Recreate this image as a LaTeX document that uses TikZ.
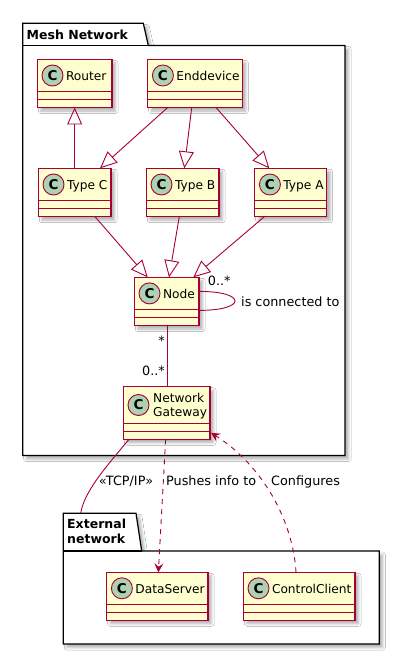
\documentclass[tikz,border=0pt]{standalone}
\usepackage{fontspec}
\setmainfont{DejaVu Sans}
\usetikzlibrary{arrows.meta,shadows.blur}
\definecolor{umlred}{HTML}{A80036}
\definecolor{umlfill}{HTML}{FEFECE}
\definecolor{umlcirc}{HTML}{ADD1B2}
\tikzset{
  shd/.style={blur shadow={shadow xshift=3.5pt, shadow yshift=-3.5pt, shadow blur radius=2.5pt, shadow opacity=30}},
  clsbox/.style={draw=umlred, fill=umlfill, line width=1.2pt, inner sep=0pt, outer sep=0pt, shd},
  clsline/.style={draw=umlred, line width=1.2pt},
  clscirc/.style={circle, draw=umlred, fill=umlcirc, line width=0.9pt, minimum size=21pt, inner sep=0pt, font=\fontsize{13.5}{13.5}\selectfont\bfseries},
  clsname/.style={inner sep=0pt, font=\fontsize{12.2}{14}\selectfont},
  pkg/.style={draw=black, fill=white, line width=1.2pt, shd},
  pkgline/.style={draw=black, line width=1.2pt},
  pkgtitle/.style={inner sep=0pt, font=\fontsize{12.5}{15.3}\selectfont\bfseries},
  lbl/.style={inner sep=0pt, font=\fontsize{12.8}{15}\selectfont},
  ext/.style={draw=umlred, line width=0.9pt, -{Triangle[open, length=17pt, width=15pt]}},
  assoc/.style={draw=umlred, line width=0.9pt},
  dep/.style={draw=umlred, line width=0.9pt, dash pattern=on 5pt off 5pt, -{Stealth[length=9pt, width=9pt, inset=3.5pt]}},
}
\newcommand\umlcls[6]{%
  \node[clsbox, minimum width={(#4-#2)*1pt}, minimum height={(#5+16)*1pt}, anchor=north west] (#1) at (#2,#3) {};
  \draw[clsline] (#2,{#3+#5}) -- (#4,{#3+#5});
  \draw[clsline] (#2,{#3+#5+8}) -- (#4,{#3+#5+8});
  \node[clscirc] (#1-c) at ({#2+15.2},{#3+#5/2}) {C};
  \node[clsname, anchor=base west] (#1-t) at ({#2+28.5},{#3+#5/2+5}) {#6};
}
\begin{document}
\begin{tikzpicture}[x=1pt,y=-1pt]
\fill[white] (0,0) rectangle (400,655);
\useasboundingbox (0,0) rectangle (400,655);

% packages
\path[pkg] (22.7,23.3) -- (143.3,23.3) -- (148.3,45.5) -- (345,45.5) -- (345,455.5) -- (22.7,455.5) -- cycle;
\draw[pkgline] (22.7,45.5) -- (148.3,45.5);
\node[pkgtitle, anchor=base west] (meshT) at (26.5,40) {Mesh Network};

\path[pkg] (63.3,513.3) -- (136,513.3) -- (141.7,551) -- (379.3,551) -- (379.3,644) -- (63.3,644) -- cycle;
\draw[pkgline] (63.3,551) -- (141.7,551);
\node[pkgtitle, anchor=north west, align=left] (extT) at (67,518.5) {External\\network};

% classes
\umlcls{Router}{37.3}{59.5}{112}{32}{Router}
\umlcls{Enddevice}{147.7}{59.5}{242.3}{32}{Enddevice}
\umlcls{TypeC}{38.3}{168.3}{111}{32.4}{Type C}
\umlcls{TypeB}{146.3}{168.3}{219}{32.4}{Type B}
\umlcls{TypeA}{254.7}{168.3}{326.7}{32.4}{Type A}
\umlcls{Node}{134.3}{277.3}{199}{32.2}{Node}
\umlcls{Gateway}{123.3}{386.7}{210}{36.6}{}
\node[clsname, anchor=west, align=left] (GatewayName) at (153,406) {Network\\Gateway};
\umlcls{DataServer}{106.7}{572.3}{208}{32}{DataServer}
\umlcls{ControlClient}{243.3}{572.3}{355}{32}{ControlClient}

% generalisations
\draw[ext] (TypeC.north) -- (Router.south);
\draw[ext] ([xshift=-27.3pt]Enddevice.south) -- ([xshift=25.35pt]TypeC.north);
\draw[ext] ([xshift=-3.3pt]Enddevice.south) -- ([xshift=1.65pt]TypeB.north);
\draw[ext] ([xshift=21pt]Enddevice.south) -- ([xshift=-21.4pt]TypeA.north);
\draw[ext] ([xshift=20.35pt]TypeC.south) -- ([xshift=-18.95pt]Node.north);
\draw[ext] ([xshift=-3.35pt]TypeB.south) -- ([xshift=2.35pt]Node.north);
\draw[ext] ([xshift=-26.4pt]TypeA.south) -- ([xshift=26.65pt]Node.north);

% associations
\draw[assoc] ([yshift=10pt]Node.east) .. controls +(48,0) and +(48,0) .. ([yshift=-9pt]Node.east);
\draw[assoc] ([xshift=1pt]Node.south) -- ([xshift=1pt]Gateway.north);
\coordinate (extTab) at (80.7,513.3);
\draw[assoc] ([xshift=-37.65pt]Gateway.south) .. controls (105,468) and (84,492) .. (extTab);
\draw[dep] ([xshift=-1pt]Gateway.south) -- ([xshift=1pt]DataServer.north);
\draw[dep] ([xshift=-3.15pt]ControlClient.north) .. controls (293,520) and (262,465) .. ([xshift=1pt,yshift=6.5pt]Gateway.south east);

% labels
\node[lbl, anchor=base west] (m1) at (207.7,285) {0..*};
\node[lbl, anchor=base west] (rel) at (241,306) {is connected to};
\node[lbl, anchor=base east] (m2) at (165,345) {*};
\node[lbl, anchor=base east] (m3) at (165,375) {0..*};
\node[lbl, anchor=base east] (tcp) at (153.5,485) {«TCP/IP»};
\node[lbl, anchor=base west] (push) at (166,485) {Pushes info to};
\node[lbl, anchor=base west] (conf) at (271,485) {Configures};
\end{tikzpicture}
\end{document}
